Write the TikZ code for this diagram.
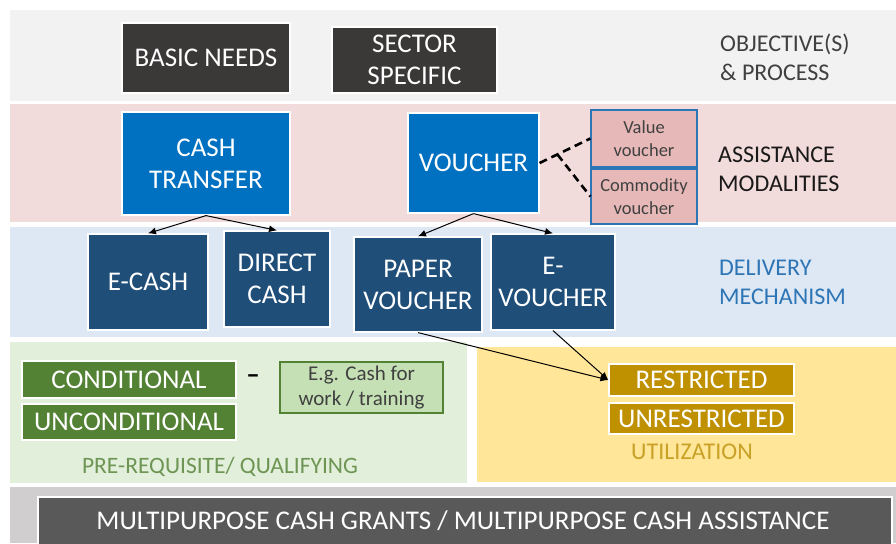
\documentclass[tikz,border=0pt]{standalone}
\usepackage{fontspec}
\setmainfont{Carlito}
\usetikzlibrary{arrows.meta}

\definecolor{objband}{HTML}{F2F2F2}
\definecolor{modband}{HTML}{F2DCDB}
\definecolor{delband}{HTML}{DDE8F4}
\definecolor{preband}{HTML}{E2EFDA}
\definecolor{utiband}{HTML}{FFE699}
\definecolor{mpcband}{HTML}{D0CECE}
\definecolor{objfill}{HTML}{3B3838}
\definecolor{modfill}{HTML}{0070C0}
\definecolor{subfill}{HTML}{E6B9B8}
\definecolor{subline}{HTML}{2E75B6}
\definecolor{delfill}{HTML}{1F4E79}
\definecolor{prefill}{HTML}{548235}
\definecolor{egfill}{HTML}{C5E0B4}
\definecolor{utifill}{HTML}{BF9000}
\definecolor{mpcfill}{HTML}{595959}
\definecolor{txtgray}{HTML}{404040}

\newcommand{\boxtxt}{\fontsize{27}{32}\selectfont}
\newcommand{\sidetxt}{\fontsize{24}{29}\selectfont}

\tikzset{
  tile/.style={draw=white, line width=1.2pt, text=white, align=center,
    inner sep=0pt, font=\boxtxt},
  subtile/.style={draw=subline, line width=1.2pt, fill=subfill, text=txtgray,
    align=center, inner sep=0pt, font=\fontsize{18.5}{23}\selectfont},
  sidelabel/.style={anchor=west, align=left, inner sep=0pt, font=\sidetxt},
  arr/.style={->, >={Latex[length=8pt,width=7pt]}, line width=1pt},
  dashline/.style={line width=2.6pt, dash pattern=on 8pt off 5pt},
}

\begin{document}
\begin{tikzpicture}[x=1pt,y=-1pt]
\useasboundingbox (0,0) rectangle (896,543);
%\draw[help lines,step=50] (0,0) grid (896,543);

% background bands
\fill[objband] (10,10) rectangle (896,101);
\fill[modband] (10,104) rectangle (896,222);
\fill[delband] (10,227) rectangle (896,337);
\fill[preband] (10,342) rectangle (467,483);
\fill[utiband] (477,347) rectangle (896,482);
\fill[mpcband] (10,487) rectangle (896,543);

% objectives
\node[tile, fill=objfill, minimum width=168, minimum height=70] (basic) at (206,58) {BASIC NEEDS};
\node[tile, fill=objfill, minimum width=165, minimum height=66] (sector) at (414.5,60) {SECTOR\\SPECIFIC};
\node[sidelabel, text=txtgray] (objlabel) at (720,57.5) {OBJECTIVE(S)\\\& PROCESS};

% modalities
\node[tile, fill=modfill, minimum width=168, minimum height=103] (cashtr) at (206,163.5) {CASH\\TRANSFER};
\node[tile, fill=modfill, minimum width=131, minimum height=100] (voucher) at (473.5,163) {VOUCHER};
\node[subtile, minimum width=106, minimum height=57] (value) at (644,138.5) {Value\\voucher};
\node[subtile, minimum width=106, minimum height=55] (commodity) at (644,196.5) {Commodity\\voucher};
\node[sidelabel, text=black!90] (modlabel) at (718,169.5) {ASSISTANCE\\MODALITIES};

% delivery
\node[tile, fill=delfill, minimum width=120, minimum height=96] (ecash) at (148,282) {E-CASH};
\node[tile, fill=delfill, minimum width=106, minimum height=96] (direct) at (277,279) {DIRECT\\CASH};
\node[tile, fill=delfill, minimum width=128, minimum height=95] (paper) at (418,284.5) {PAPER\\VOUCHER};
\node[tile, fill=delfill, minimum width=124, minimum height=96] (evoucher) at (553,282) {E-\\VOUCHER};
\node[sidelabel, text=subline] (dellabel) at (719,282.5) {DELIVERY\\MECHANISM};

% pre-requisite
\node[tile, fill=prefill, minimum width=214, minimum height=37] (cond) at (129,379.5) {CONDITIONAL};
\node[tile, fill=prefill, minimum width=214, minimum height=36] (uncond) at (129,422) {UNCONDITIONAL};
\node[font=\boxtxt\bfseries, inner sep=0pt] (minus) at (253,379) {--};
\node[draw=prefill, line width=1.2pt, fill=egfill, text=txtgray, align=center, inner sep=0pt,
  font=\fontsize{21}{25}\selectfont, minimum width=163, minimum height=51] (eg) at (361.5,387.5) {E.g. Cash for\\work / training};
\node[font=\fontsize{23.5}{28}\selectfont, text=prefill!85!white, inner sep=0pt] (prelabel) at (220,467) {PRE-REQUISITE/ QUALIFYING};

% utilization
\node[tile, fill=utifill, minimum width=185, minimum height=32] (restr) at (701.5,380) {RESTRICTED};
\node[tile, fill=utifill, minimum width=185, minimum height=31] (unrestr) at (701.5,418.5) {UNRESTRICTED};
\node[font=\sidetxt, text=utifill!85!white, inner sep=0pt] (utilabel) at (692,452) {UTILIZATION};

% multipurpose
\draw[white, line width=1.2pt, fill=mpcfill] (38,497) rectangle (892,560);
\node[font=\boxtxt, text=white] (mpc) at (463,521) {MULTIPURPOSE CASH GRANTS / MULTIPURPOSE CASH ASSISTANCE};

% connectors
\draw[arr] (cashtr.south) -- (ecash.north);
\draw[arr] (cashtr.south) -- (direct.north);
\draw[arr] (voucher.south) -- (paper.north);
\draw[arr] (voucher.south) -- (evoucher.north);
\draw[arr] (paper.south) -- (restr.west);
\draw[arr] (evoucher.south) -- (restr.west);
\draw[dashline] (voucher.east) -- coordinate[pos=0.35] (fork) (value.west);
\draw[dashline] (fork) -- (commodity.west);
\end{tikzpicture}
\end{document}
